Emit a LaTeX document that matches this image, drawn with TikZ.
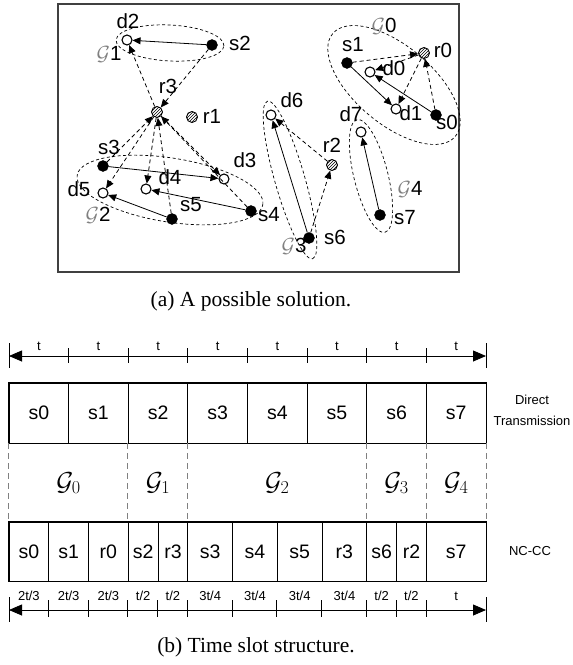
\documentclass[tikz,border=0pt]{standalone}
\usepackage{fix-cm}
\usepackage{fontspec}
\setmainfont{Liberation Serif}
\setsansfont{Liberation Sans}
\usetikzlibrary{arrows.meta,patterns,shapes.geometric,positioning}

\tikzset{
  src/.style={circle, draw, fill=black, minimum size=11pt, inner sep=0pt},
  dst/.style={circle, draw, fill=white, line width=1.1pt, minimum size=10pt, inner sep=0pt},
  rly/.style={circle, draw, line width=0.9pt, pattern=north east lines, minimum size=11pt, inner sep=0pt},
  lbl/.style={font=\sffamily\fontsize{20.5}{22}\selectfont, inner sep=0pt},
  grp/.style={draw, ellipse, dash pattern=on 3pt off 2.5pt, line width=0.7pt, inner sep=0pt},
  direct/.style={-{Triangle[length=8pt,width=7pt]}, line width=0.8pt},
  relay/.style={direct, dash pattern=on 4pt off 3pt},
  slot/.style={draw, line width=0.9pt, minimum height=60pt, inner sep=0pt,
    font=\sffamily\fontsize{19.5}{21}\selectfont},
  small/.style={font=\sffamily\fontsize{13}{21}\selectfont, inner sep=0pt},
  gbig/.style={font=\fontsize{26}{28}\selectfont, inner sep=0pt},
  gsep/.style={gray, dash pattern=on 6pt off 4pt, line width=0.8pt},
  tick/.style={line width=0.8pt},
  timeline/.style={{Triangle[length=13pt,width=11pt]}-{Triangle[length=13pt,width=11pt]}, line width=0.8pt},
  captxt/.style={font=\fontsize{21.5}{24}\selectfont, inner sep=0pt}
}

\begin{document}
\begin{tikzpicture}[x=1pt,y=-1pt]
  \useasboundingbox (0,0) rectangle (573,665);

  % (a) network
  \draw[black!75, line width=1.2pt] (58,4) rectangle (459,272);

  % groups
  \node[grp, minimum width=108pt, minimum height=36pt, rotate=-3] (g1) at (170,43) {};
  \node[grp, minimum width=188pt, minimum height=64pt, rotate=-9] (g2) at (170,190) {};
  \node[grp, minimum width=160pt, minimum height=78pt, rotate=-40] (g0) at (394,85) {};
  \node[grp, minimum width=164pt, minimum height=30pt, rotate=-74] (g3) at (290,180) {};
  \node[grp, minimum width=116pt, minimum height=34pt, rotate=-76] (g4) at (371,176) {};

  % sources
  \node[src] (s0) at (436,115) {};
  \node[src] (s1) at (347,63) {};
  \node[src] (s2) at (212,45) {};
  \node[src] (s3) at (103,166) {};
  \node[src] (s4) at (251,211) {};
  \node[src] (s5) at (172,219) {};
  \node[src] (s6) at (309,238) {};
  \node[src] (s7) at (380,215) {};
  % destinations
  \node[dst] (d0) at (370,72) {};
  \node[dst] (d1) at (396,109) {};
  \node[dst] (d2) at (127,40) {};
  \node[dst] (d3) at (224,179) {};
  \node[dst] (d4) at (146,189) {};
  \node[dst] (d5) at (103,193) {};
  \node[dst] (d6) at (271,115) {};
  \node[dst] (d7) at (361,132) {};
  % relays
  \node[rly] (r0) at (424,53) {};
  \node[rly] (r1) at (192,117) {};
  \node[rly] (r2) at (332,165) {};
  \node[rly] (r3) at (157,112) {};

  % names
  \node[lbl] (ls0) at (447,122) {s0};
  \node[lbl] (ls1) at (353,45) {s1};
  \node[lbl] (ls2) at (240,43) {s2};
  \node[lbl] (ls3) at (109,147) {s3};
  \node[lbl] (ls4) at (269,215) {s4};
  \node[lbl] (ls5) at (191,205) {s5};
  \node[lbl] (ls6) at (335,237) {s6};
  \node[lbl] (ls7) at (405,218) {s7};
  \node[lbl] (ld0) at (394,68) {d0};
  \node[lbl] (ld1) at (411,113) {d1};
  \node[lbl] (ld2) at (128,21) {d2};
  \node[lbl] (ld3) at (245,160) {d3};
  \node[lbl] (ld4) at (170,177) {d4};
  \node[lbl] (ld5) at (79,189) {d5};
  \node[lbl] (ld6) at (292,100) {d6};
  \node[lbl] (ld7) at (351,114) {d7};
  \node[lbl] (lr0) at (443,50) {r0};
  \node[lbl] (lr1) at (212,116) {r1};
  \node[lbl] (lr2) at (332,145) {r2};
  \node[lbl] (lr3) at (168,86) {r3};
  \node[lbl] (lg0) at (384,26) {\textcolor{gray}{$\mathcal{G}$}0};
  \node[lbl] (lg1) at (109,54) {\textcolor{gray}{$\mathcal{G}$}1};
  \node[lbl] (lg2) at (98,215) {\textcolor{gray}{$\mathcal{G}$}2};
  \node[lbl] (lg3) at (294,246) {\textcolor{gray}{$\mathcal{G}$}3};
  \node[lbl] (lg4) at (410,189) {\textcolor{gray}{$\mathcal{G}$}4};

  % direct links
  \draw[direct] (s0) -- (d0);
  \draw[direct] (s1) -- (d1);
  \draw[direct] (s2) -- (d2);
  \draw[direct] (s3) -- (d3);
  \draw[direct] (s4) -- (d4);
  \draw[direct] (s5) -- (d5);
  \draw[direct] (s6) -- (d6);
  \draw[direct] (s7) -- (d7);
  % relayed links
  \draw[relay] (s0) -- (r0);
  \draw[relay] (s1) -- (r0);
  \draw[relay] (r0) -- (d0);
  \draw[relay] (r0) -- (d1);
  \draw[relay] (s2) -- (r3);
  \draw[relay] (s3) -- (r3);
  \draw[relay] (s4) -- (r3);
  \draw[relay] (s5) -- (r3);
  \draw[relay] (r3) -- (d2);
  \draw[relay] (r3) -- (d3);
  \draw[relay] (r3) -- (d4);
  \draw[relay] (r3) -- (d5);
  \draw[relay] (s6) -- (r2);
  \draw[relay] (r2) -- (d6);

  \node[captxt, anchor=base] (capa) at (251,306) {(a) A possible solution.};

  % (b) time slots
  \coordinate (ta1) at (9,356);
  \coordinate (tb1) at (486,356);
  \draw[timeline] (ta1) -- (tb1);
  \foreach \lab [count=\i from 0] in {s0,s1,s2,s3,s4,s5,s6,s7} {
    \node[slot, minimum width=59.625pt] (t\i) at ({9+59.625*(\i+0.5)},413) {\lab};
    \node[small, anchor=base] (u\i) at ({9+59.625*(\i+0.5)},350) {t};
  }
  \draw[line width=1.8pt] (t0.north west) rectangle (t7.south east);
  \foreach \i in {1,...,7}
    \draw[tick] ({9+59.625*\i},348) -- ({9+59.625*\i},363);
  \draw[tick] (9,343) -- (9,368);
  \draw[tick] (486,343) -- (486,368);
  \node[small, align=center] (dt) at (532,410.5) {Direct\\Transmission};

  \foreach \lab/\a/\b [count=\i] in {s0/0/0.6667, s1/0.6667/1.3333, r0/1.3333/2,
      s2/2/2.5, r3/2.5/3, s3/3/3.75, s4/3.75/4.5, s5/4.5/5.25, r3/5.25/6,
      s6/6/6.5, r2/6.5/7, s7/7/8} {
    \pgfmathsetmacro\slotw{59.625*(\b-\a)}
    \pgfmathsetmacro\xm{9+59.625*(\a+\b)/2}
    \node[slot, minimum width=\slotw pt, minimum height=59pt] (c\i) at (\xm,551.5) {\lab};
  }
  \draw[line width=1.8pt] (c1.north west) rectangle (c12.south east);
  \node[small] (nc) at (530,551) {NC-CC};

  \coordinate (durrow) at (0,600.5);
  \foreach \dur [count=\i] in {2t/3,2t/3,2t/3,t/2,t/2,3t/4,3t/4,3t/4,3t/4,t/2,t/2,t}
    \node[small, anchor=base] (v\i) at (c\i.south |- durrow) {\dur};
  \coordinate (ta2) at (9,610);
  \coordinate (tb2) at (486,610);
  \draw[timeline] (ta2) -- (tb2);
  \coordinate (tk2a) at (0,600);
  \coordinate (tk2b) at (0,617);
  \foreach \i in {2,...,12}
    \draw[tick] (c\i.south west |- tk2a) -- (c\i.south west |- tk2b);
  \draw[tick] (9,597) -- (9,622);
  \draw[tick] (486,597) -- (486,622);

  % groups between the rows
  \draw[gsep] (t0.south west) -- (c1.north west);
  \draw[gsep] (t2.south west) -- (c4.north west);
  \draw[gsep] (t3.south west) -- (c6.north west);
  \draw[gsep] (t6.south west) -- (c10.north west);
  \draw[gsep] (t7.south west) -- (c12.north west);
  \draw[gsep] (t7.south east) -- (c12.north east);
  \node[gbig, anchor=base] (G0) at (68.6,490) {$\mathcal{G}_0$};
  \node[gbig, anchor=base] (G1) at (158.1,490) {$\mathcal{G}_1$};
  \node[gbig, anchor=base] (G2) at (277.3,490) {$\mathcal{G}_2$};
  \node[gbig, anchor=base] (G3) at (396.6,490) {$\mathcal{G}_3$};
  \node[gbig, anchor=base] (G4) at (456.2,490) {$\mathcal{G}_4$};

  \node[captxt, anchor=base] (capb) at (256,652) {(b) Time slot structure.};
\end{tikzpicture}
\end{document}
